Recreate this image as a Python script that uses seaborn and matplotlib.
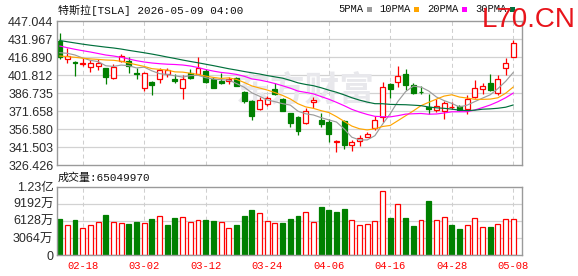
import numpy as np
import pandas as pd
import matplotlib
matplotlib.use("Agg")
import matplotlib.pyplot as plt
from matplotlib.patches import Rectangle
import seaborn as sns

# ---------------- data ----------------
title = "特斯拉[TSLA] 2026-05-09 04:00"
vol_title = "成交量:65049970"
watermark = "L70.CN"
logo_text = "东方财富"

dates = [d.strftime("%m-%d") for d in pd.bdate_range("2026-02-12", "2026-05-08")
         if d.strftime("%m-%d") not in ("02-16", "04-03")]

open_ = [430.79, 415.21, 413.20, 411.53, 408.51, 409.35, 407.67, 399.30, 414.04, 414.04,
         403.49, 391.43, 395.95, 398.46, 402.65, 398.97, 390.92, 403.49, 403.15, 405.41,
         398.46, 396.79, 397.04, 399.30, 388.08, 380.29, 373.59, 377.52, 390.09, 381.71,
         369.98, 366.63, 362.11, 379.20, 364.37, 362.95, 345.95, 363.79, 343.69, 346.78,
         350.38, 357.92, 367.14, 394.53, 396.45, 402.90, 393.69, 388.08, 375.01, 372.75,
         372.16, 375.01, 375.85, 373.34, 383.38, 390.59, 395.62, 386.74, 408.18, 417.39]
close = [417.39, 417.98, 411.86, 412.37, 412.12, 412.12, 400.64, 409.02, 417.98, 409.60,
         402.65, 403.99, 393.44, 406.25, 406.00, 397.29, 398.46, 399.80, 407.67, 395.95,
         391.43, 395.62, 398.46, 393.10, 380.54, 367.97, 381.12, 383.05, 385.90, 372.16,
         362.11, 355.41, 372.16, 381.12, 361.02, 352.65, 346.53, 343.43, 346.20, 349.54,
         352.65, 364.37, 391.76, 390.09, 401.23, 393.44, 387.24, 387.57, 373.84, 376.10,
         378.36, 375.51, 372.50, 381.71, 390.92, 392.85, 389.50, 398.46, 411.86, 428.62]
high = [437.49, 424.42, 413.79, 416.05, 414.63, 415.47, 407.67, 411.03, 419.65, 416.89,
        407.67, 404.83, 397.04, 408.18, 408.18, 402.65, 402.06, 406.83, 417.39, 407.09,
        400.14, 403.49, 400.64, 400.64, 388.66, 381.12, 383.38, 384.47, 395.12, 383.05,
        370.49, 367.72, 374.17, 383.38, 370.00, 364.96, 347.62, 364.37, 347.62, 351.81,
        354.57, 367.72, 395.95, 395.12, 409.60, 407.09, 394.95, 393.10, 385.90, 381.71,
        380.54, 379.70, 376.93, 385.31, 397.87, 395.62, 402.50, 401.81, 416.56, 431.38]
low = [415.21, 411.86, 401.48, 409.85, 404.83, 406.25, 394.53, 398.46, 413.37, 403.99,
       398.97, 388.91, 385.31, 395.12, 400.14, 395.12, 381.96, 398.71, 402.90, 395.37,
       390.92, 394.53, 394.28, 392.85, 378.86, 364.37, 372.75, 376.35, 385.06, 371.91,
       358.92, 351.81, 361.27, 374.17, 358.34, 346.20, 337.32, 339.83, 338.41, 342.59,
       349.88, 356.00, 362.70, 382.55, 392.27, 389.50, 386.15, 385.90, 369.80, 371.32,
       364.96, 373.34, 371.91, 369.14, 382.55, 385.90, 388.91, 385.06, 402.06, 416.89]

# volume in 万股
volume = [6422, 5303, 6246, 4773, 5303, 6010, 7129, 6010, 5656, 5538,
          5892, 5715, 6422, 7070, 5362, 6599, 6894, 6010, 6363, 6246,
          6069, 6010, 4773, 5362, 6953, 8013, 7601, 6187, 5656, 5715,
          6422, 6953, 7777, 6010, 8543, 8013, 7660, 8190, 6363, 5303,
          5480, 6187, 11489, 6599, 9192, 6599, 5185, 6363, 9604, 6363,
          6894, 5362, 4655, 5303, 6717, 4949, 4949, 5480, 6540, 6505]
vol_up = [0, 1, 0, 1, 1, 1, 0, 1, 1, 0, 0, 1, 0, 1, 0, 0, 1, 1, 1, 0,
          0, 1, 1, 0, 0, 0, 1, 1, 1, 0, 0, 0, 1, 1, 0, 0, 0, 0, 1, 1,
          1, 1, 1, 0, 1, 0, 0, 1, 0, 1, 1, 0, 0, 1, 1, 1, 0, 1, 1, 1]

ma5 = [420.74, 420.24, 418.81, 416.30, 414.34, 413.29, 409.82, 409.25, 410.38, 409.87,
       407.98, 408.65, 405.53, 403.19, 402.47, 401.39, 400.29, 401.56, 401.84, 399.83,
       398.66, 398.09, 397.83, 394.91, 391.83, 387.14, 384.24, 381.16, 379.72, 378.04,
       376.87, 371.73, 369.55, 368.59, 366.36, 364.47, 362.70, 356.95, 349.97, 347.67,
       347.67, 351.24, 360.90, 369.68, 380.02, 388.18, 392.75, 391.91, 388.66, 383.64,
       380.62, 378.28, 375.26, 376.84, 379.80, 382.70, 385.50, 390.69, 396.72, 404.26]
ma10 = [417.97, 417.47, 416.89, 416.13, 415.55, 415.13, 414.63, 414.38, 413.54, 412.11,
        410.63, 409.24, 407.39, 406.78, 406.17, 404.69, 404.47, 403.55, 402.52, 401.15,
        400.03, 399.19, 399.69, 398.38, 395.83, 392.90, 391.17, 389.49, 387.31, 384.94,
        382.00, 377.98, 375.35, 374.15, 372.20, 370.67, 367.21, 363.25, 359.28, 357.02,
        356.07, 356.97, 358.93, 359.82, 363.85, 367.92, 372.00, 376.41, 379.17, 381.83,
        384.40, 385.51, 383.59, 382.75, 381.72, 381.66, 381.89, 382.98, 386.78, 392.03]
ma20 = [426.35, 424.93, 423.59, 422.42, 421.33, 420.07, 418.81, 417.98, 416.89, 415.46,
        414.04, 412.95, 412.11, 411.53, 411.11, 410.86, 410.44, 409.60, 408.34, 406.63,
        405.33, 404.21, 403.54, 402.58, 401.00, 398.79, 397.82, 396.52, 394.91, 393.04,
        391.02, 388.59, 387.52, 386.27, 384.02, 381.79, 379.19, 376.37, 373.30, 370.98,
        369.04, 367.47, 367.14, 366.99, 368.02, 369.30, 369.60, 369.83, 369.23, 369.42,
        370.24, 371.24, 371.26, 371.29, 372.78, 374.79, 376.94, 379.69, 382.98, 386.93]
ma30 = [431.00, 429.90, 428.90, 427.90, 427.00, 426.20, 425.40, 424.70, 423.80, 422.70,
        421.70, 420.70, 419.60, 418.40, 417.10, 415.90, 414.60, 413.40, 412.30, 411.10,
        409.90, 408.60, 407.30, 406.20, 405.00, 403.90, 402.90, 401.60, 400.50, 399.40,
        397.56, 395.47, 394.15, 393.10, 391.40, 389.42, 387.62, 385.43, 383.04, 381.03,
        379.37, 378.05, 377.99, 377.45, 377.29, 377.16, 376.79, 376.38, 375.26, 374.59,
        374.16, 373.49, 372.62, 372.24, 372.59, 373.42, 373.70, 374.21, 375.08, 376.96]

ma_names = ["5PMA", "10PMA", "20PMA", "30PMA"]
price_ticks = [326.426, 341.503, 356.580, 371.658, 386.735, 401.812, 416.890, 431.967, 447.044]
vol_ticks = [0, 3064, 6128, 9192, 12256]
vol_tick_labels = ["0", "3064万", "6128万", "9192万", "1.23亿"]
date_labels = ["02-18", "03-02", "03-12", "03-24", "04-06", "04-16", "04-28", "05-08"]

# ---------------- style ----------------
sns.set_theme(style="white")
plt.rcParams["font.family"] = ["Liberation Sans", "Noto Sans CJK SC", "DejaVu Sans"]
plt.rcParams["axes.unicode_minus"] = False

RED = "#ff0000"
GREEN = "#008000"
MA_COLORS = ["#9c9c9c", "#ffa500", "#ff00ff", "#00703c"]
GRID = "#d2d2d2"
SPINE = "#9a9a9a"
MONO = ["Liberation Mono", "Noto Sans CJK SC"]

W, H = 578, 276
fig = plt.figure(figsize=(W / 100, H / 100), dpi=100)
fig.patch.set_facecolor("white")

L, R = 57, 522.3
ax = fig.add_axes([L / W, (H - 165.3) / H, (R - L) / W, 144 / H])
axv = fig.add_axes([L / W, (H - 255) / H, (R - L) / W, 68.3 / H])

n = len(close)
idx = np.arange(n)
df = pd.DataFrame({"idx": idx, "open": open_, "close": close, "high": high, "low": low,
                   "volume": volume, "vol_up": vol_up,
                   "5PMA": ma5, "10PMA": ma10, "20PMA": ma20, "30PMA": ma30, "date": dates})
tick_pos = [dates.index(d) for d in date_labels]

xlim = (-0.34, 60.17)
for a in (ax, axv):
    a.set_facecolor("white")
    a.set_xlim(*xlim)
    for s in a.spines.values():
        s.set_color(SPINE)
        s.set_linewidth(1.0)
        s.set_visible(True)
    for p in tick_pos:
        a.axvline(p, color="#cfcfcf", lw=0.75, ls=(0, (3.8, 2.9)), zorder=0.5)

# ---- price panel ----
ax.set_ylim(price_ticks[0], price_ticks[-1])
for t in price_ticks[1:-1]:
    ax.axhline(t, color=GRID, lw=0.9, zorder=0.4)
ax.set_yticks(price_ticks)
ax.set_yticklabels([f"{t:.3f}" for t in price_ticks])
ax.set_xticks([])
ax.tick_params(axis="y", length=0, pad=2.6, labelsize=9, labelcolor="#2a2a2a")

ax.text(0.535, 0.52, logo_text, transform=ax.transAxes, ha="center", va="center",
        fontsize=25, color="#e8e8ec", fontweight="bold", family=["Noto Sans CJK SC"],
        style="italic", zorder=0.6)

body_w = 0.64
for i in idx:
    o, c, h, l = open_[i], close[i], high[i], low[i]
    up = c >= o
    col = RED if up else GREEN
    ax.vlines(i, l, h, color=col, lw=0.9, zorder=2)
    ax.bar(i, abs(c - o), bottom=min(o, c), width=body_w,
           facecolor="white" if up else GREEN, edgecolor=col, linewidth=0.9, zorder=2.5)

for name, color in zip(ma_names, MA_COLORS):
    sns.lineplot(data=df, x="idx", y=name, ax=ax, color=color, linewidth=0.85,
                 legend=False, zorder=3)
ax.set_xlabel("")
ax.set_ylabel("")
ax.set_xlim(*xlim)

# ---- volume panel ----
axv.set_ylim(vol_ticks[0], vol_ticks[-1])
for t in vol_ticks[1:-1]:
    axv.axhline(t, color=GRID, lw=0.9, zorder=0.4)
axv.set_yticks(vol_ticks)
axv.set_yticklabels(vol_tick_labels)
axv.tick_params(axis="y", length=0, pad=2.6, labelsize=9, labelcolor="#2a2a2a")
for i in idx:
    up = vol_up[i] == 1
    col = RED if up else GREEN
    axv.bar(i, volume[i], width=body_w, facecolor="white" if up else GREEN,
            edgecolor=col, linewidth=0.9, zorder=2)
axv.set_xticks(tick_pos)
axv.set_xticklabels(date_labels, family=MONO, fontsize=7.6, color=RED)
axv.tick_params(axis="x", length=0, pad=4.2)
axv.set_xlabel("")
axv.set_ylabel("")

# ---- texts ----
fig.text(57.5 / W, 1 - 10 / H, title, ha="left", va="center", fontsize=7.9,
         family=MONO, color="#111111")
fig.text(57.5 / W, 1 - 177.5 / H, vol_title, ha="left", va="center", fontsize=7.9,
         family=MONO, color="#111111")

fig.canvas.draw()
rend = fig.canvas.get_renderer()
x = 338.0
for name, color in zip(ma_names, MA_COLORS):
    t = fig.text(x / W, 1 - 9.5 / H, name, ha="left", va="center", fontsize=7.6,
                 family=MONO, color="#111111")
    bb = t.get_window_extent(renderer=rend)
    sx = bb.x1 + 3.5
    fig.patches.append(Rectangle((sx / W, (H - 9.5 - 2.5) / H), 5 / W, 5 / H,
                                 transform=fig.transFigure, facecolor=color,
                                 edgecolor="none"))
    x = sx + 5 + 8

fig.text(482 / W, 1 - 27 / H, watermark, ha="left", va="baseline", fontsize=20,
         color="#e8141b", family=["Liberation Sans"], zorder=10)

fig.savefig("out.png", dpi=100, facecolor="white")
